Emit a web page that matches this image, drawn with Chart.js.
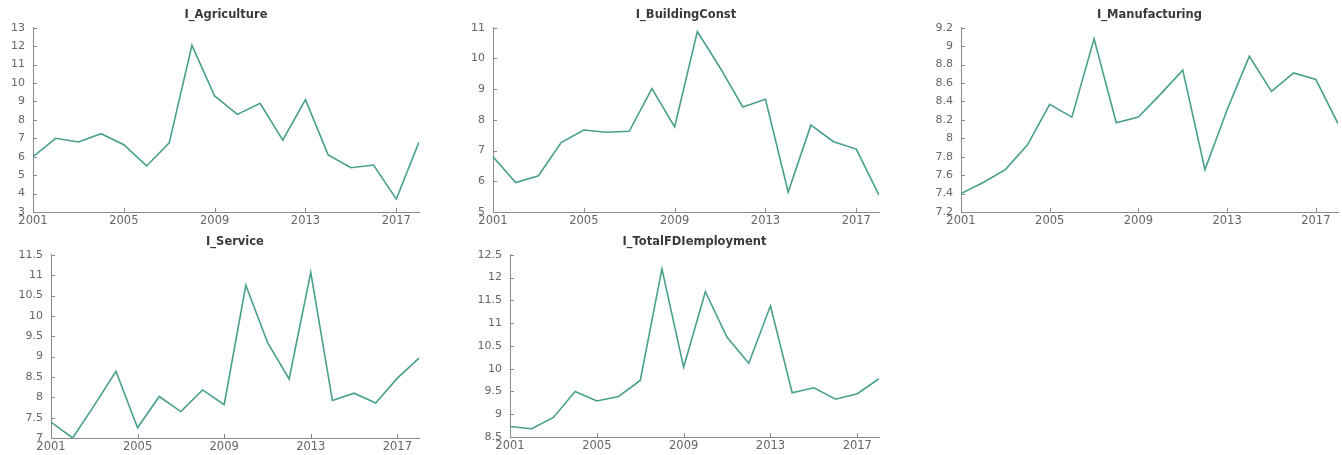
<!DOCTYPE html>
<html>
<head>
<meta charset="utf-8">
<script src="https://cdn.jsdelivr.net/npm/chart.js@4"></script>
<style>
  body { margin: 0; background: #fff; width: 1342px; height: 455px; position: relative; overflow: hidden; }
  .panel { position: absolute; }
</style>
</head>
<body>
<div class="panel" id="p1"><canvas id="c1"></canvas></div>
<div class="panel" id="p2"><canvas id="c2"></canvas></div>
<div class="panel" id="p3"><canvas id="c3"></canvas></div>
<div class="panel" id="p4"><canvas id="c4"></canvas></div>
<div class="panel" id="p5"><canvas id="c5"></canvas></div>
<script>
// data
const years = [2001, 2002, 2003, 2004, 2005, 2006, 2007, 2008, 2009, 2010, 2011, 2012, 2013, 2014, 2015, 2016, 2017, 2018];
const xTickValues = [2001, 2005, 2009, 2013, 2017];

const agriculture   = [6.0, 7.0, 6.8, 7.25, 6.65, 5.5, 6.75, 12.05, 9.3, 8.3, 8.9, 6.9, 9.1, 6.1, 5.4, 5.55, 3.7, 6.8];
const buildingConst = [6.8, 5.96, 6.18, 7.26, 7.67, 7.6, 7.63, 9.02, 7.77, 10.88, 9.7, 8.42, 8.67, 5.65, 7.83, 7.29, 7.05, 5.55];
const manufacturing = [7.4, 7.52, 7.66, 7.93, 8.37, 8.23, 9.08, 8.17, 8.23, 8.48, 8.74, 7.66, 8.31, 8.89, 8.51, 8.71, 8.64, 8.16];
const service       = [7.39, 7.0, 7.8, 8.64, 7.25, 8.02, 7.65, 8.18, 7.82, 10.75, 9.35, 8.45, 11.07, 7.92, 8.1, 7.86, 8.47, 8.96];
const totalFD       = [8.73, 8.68, 8.93, 9.5, 9.29, 9.39, 9.74, 12.19, 10.03, 11.69, 10.69, 10.12, 11.38, 9.47, 9.58, 9.33, 9.45, 9.78];

// y axis ranges (min, max, step)
const yAgriculture   = [3, 13, 1];
const yBuildingConst = [5, 11, 1];
const yManufacturing = [7.2, 9.2, 0.2];
const yService       = [7, 11.5, 0.5];
const yTotalFD       = [8.5, 12.5, 0.5];

const LINE_COLOR = '#48a08a';
const AXIS_COLOR = '#8a8a8a';
const FONT = '"DejaVu Sans", "Liberation Sans", sans-serif';

// tick marks drawn pointing into the plot
const innerTicks = {
    id: 'innerTicks',
    afterDraw(chart) {
        const ctx = chart.ctx;
        const area = chart.chartArea;
        ctx.save();
        ctx.strokeStyle = AXIS_COLOR;
        ctx.lineWidth = 1;
        ctx.beginPath();
        chart.scales.x.ticks.forEach(t => {
            const px = Math.round(chart.scales.x.getPixelForValue(t.value)) + 0.5;
            ctx.moveTo(px, area.bottom);
            ctx.lineTo(px, area.bottom - 4);
        });
        chart.scales.y.ticks.forEach(t => {
            const py = Math.round(chart.scales.y.getPixelForValue(t.value)) + 0.5;
            ctx.moveTo(area.left, py);
            ctx.lineTo(area.left + 4, py);
        });
        ctx.stroke();
        ctx.restore();
    }
};

function makePanel(id, title, values, yRange, box) {
    const wrap = document.getElementById('p' + id);
    const yAxisWidth = 40;
    const left = box.left - yAxisWidth;
    const width = box.right - left + 3;
    const height = 27 + (box.bottom - box.top) + 17;
    wrap.style.left = left + 'px';
    wrap.style.top = (box.top - 27) + 'px';
    wrap.style.width = width + 'px';
    wrap.style.height = height + 'px';

    new Chart(document.getElementById('c' + id), {
        type: 'line',
        data: {
            datasets: [{
                data: years.map((y, i) => ({ x: y, y: values[i] })),
                borderColor: LINE_COLOR,
                borderWidth: 1.6,
                pointRadius: 0,
                tension: 0,
                fill: false
            }]
        },
        options: {
            responsive: true,
            maintainAspectRatio: false,
            animation: false,
            layout: { padding: { top: 0, right: 3, bottom: 0, left: 0 } },
            plugins: {
                legend: { display: false },
                tooltip: { enabled: false },
                title: {
                    display: true,
                    text: title,
                    fullSize: false,
                    color: '#3a3a3a',
                    font: { family: FONT, size: 11.5, weight: 'bold', lineHeight: 1.2 },
                    padding: { top: 8, bottom: 6 }
                }
            },
            scales: {
                x: {
                    type: 'linear',
                    min: years[0],
                    max: years[years.length - 1],
                    afterBuildTicks: s => { s.ticks = xTickValues.map(v => ({ value: v })); },
                    afterFit: s => { s.height = 17; },
                    grid: { display: true, drawOnChartArea: false, drawTicks: false },
                    border: { display: true, color: AXIS_COLOR, width: 1 },
                    ticks: {
                        color: '#666',
                        font: { family: FONT, size: 11.5 },
                        padding: 2,
                        maxRotation: 0,
                        autoSkip: false,
                        callback: v => String(v)
                    }
                },
                y: {
                    min: yRange[0],
                    max: yRange[1],
                    afterFit: s => { s.width = yAxisWidth; },
                    grid: { display: true, drawOnChartArea: false, drawTicks: false },
                    border: { display: true, color: AXIS_COLOR, width: 1 },
                    ticks: {
                        stepSize: yRange[2],
                        color: '#666',
                        font: { family: FONT, size: 11 },
                        padding: 8,
                        autoSkip: false,
                        callback: v => String(+v.toFixed(2))
                    }
                }
            }
        },
        plugins: [innerTicks]
    });
}

makePanel(1, 'I_Agriculture', agriculture, yAgriculture, { left: 33, right: 419, top: 27, bottom: 212 });
makePanel(2, 'I_BuildingConst', buildingConst, yBuildingConst, { left: 493, right: 879, top: 27, bottom: 212 });
makePanel(3, 'I_Manufacturing', manufacturing, yManufacturing, { left: 961, right: 1338, top: 27, bottom: 212 });
makePanel(4, 'I_Service', service, yService, { left: 51, right: 419, top: 254, bottom: 438 });
makePanel(5, 'I_TotalFDIemployment', totalFD, yTotalFD, { left: 510, right: 879, top: 254, bottom: 437 });
</script>
</body>
</html>
